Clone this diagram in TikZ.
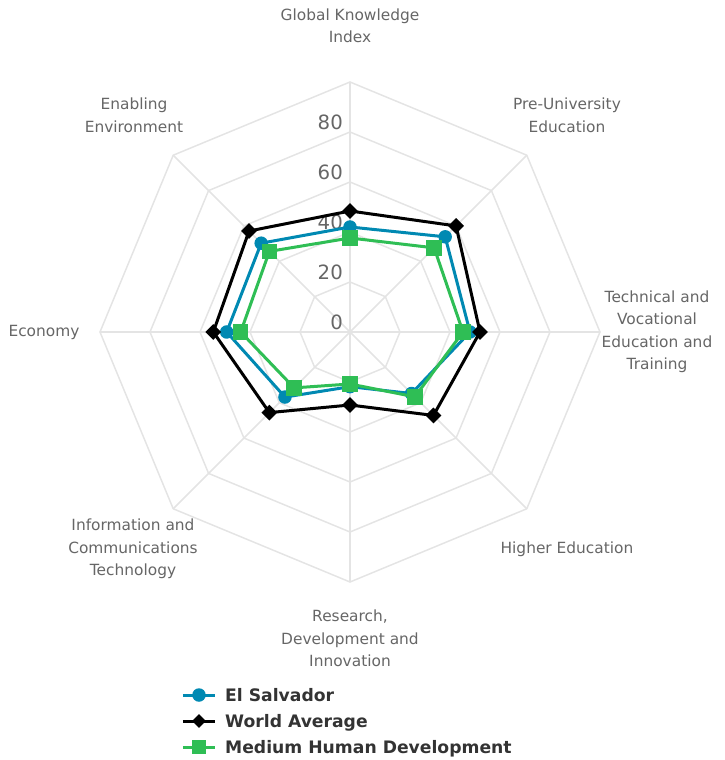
\documentclass[tikz,border=0pt]{standalone}
\usepackage{fontspec}
\setmainfont{DejaVu Sans}
\usetikzlibrary{shapes.geometric}
\definecolor{esblue}{RGB}{0,137,178}
\definecolor{mhdgreen}{RGB}{47,190,85}
\definecolor{gridgray}{RGB}{228,228,228}
\definecolor{labelgray}{RGB}{102,102,102}
\definecolor{legendgray}{RGB}{51,51,51}
\begin{document}
\begin{tikzpicture}[x=1pt,y=1pt,
  gridline/.style={draw=gridgray,line width=1.5pt},
  axislabel/.style={text=labelgray,align=center,inner sep=0pt,font=\fontsize{15.4}{22.5}\selectfont},
  valuelabel/.style={text=labelgray,inner sep=0pt,anchor=east,font=\fontsize{19.7}{22}\selectfont},
  esline/.style={draw=esblue,line width=3pt,line join=round},
  waline/.style={draw=black,line width=3pt,line join=round},
  mhdline/.style={draw=mhdgreen,line width=3pt,line join=round},
  esmark/.style={circle,fill=esblue,minimum size=13.5pt,inner sep=0pt},
  wamark/.style={diamond,fill=black,minimum size=16pt,inner sep=0pt},
  mhdmark/.style={rectangle,fill=mhdgreen,minimum size=15.5pt,inner sep=0pt},
  legendtext/.style={text=legendgray,anchor=base west,inner sep=0pt,font=\fontsize{17.2}{20}\selectfont\bfseries}]
\useasboundingbox (-350,-428) rectangle (375,332);
% grid rings
\foreach \r in {50,100,150,200,250}
  \draw[gridline] (90:\r) -- (45:\r) -- (0:\r) -- (-45:\r) -- (-90:\r) -- (-135:\r) -- (180:\r) -- (135:\r) -- cycle;
% spokes
\coordinate (c) at (0,0);
\foreach \a in {0,45,...,315}
  \draw[gridline] (c) -- (\a:250);
% value labels
\foreach \v/\r in {0/0,20/50,40/100,60/150,80/200}
  \node[valuelabel] (v\v) at (-7,\r+10) {\v};
% axis labels
\node[axislabel] (gki) at (0,306) {Global Knowledge\\Index};
\node[axislabel] (pue) at (217,216.5) {Pre-University\\Education};
\node[axislabel] (tvet) at (307,0) {Technical and\\Vocational\\Education and\\Training};
\node[axislabel] (he) at (217,-217) {Higher Education};
\node[axislabel] (rdi) at (0,-306.5) {Research,\\Development and\\Innovation};
\node[axislabel] (ict) at (-217,-217) {Information and\\Communications\\Technology};
\node[axislabel] (eco) at (-306,0) {Economy};
\node[axislabel] (ee) at (-216,216.5) {Enabling\\Environment};
% data points
\foreach \i/\a/\r in {1/90/105,2/45/134.6,3/0/120,4/-45/87,5/-90/54.7,6/-135/92,7/180/123.3,8/135/125.6}
  \coordinate (es\i) at (\a:\r);
\foreach \i/\a/\r in {1/90/121,2/45/150,3/0/130,4/-45/118,5/-90/73,6/-135/114,7/180/136.7,8/135/142.8}
  \coordinate (wa\i) at (\a:\r);
\foreach \i/\a/\r in {1/90/94,2/45/119,3/0/113,4/-45/91.7,5/-90/52,6/-135/79,7/180/109.3,8/135/114}
  \coordinate (mhd\i) at (\a:\r);
% El Salvador
\draw[esline] (es1) -- (es2) -- (es3) -- (es4) -- (es5) -- (es6) -- (es7) -- (es8) -- cycle;
\foreach \i in {1,...,8} \node[esmark] at (es\i) {};
% World Average
\draw[waline] (wa1) -- (wa2) -- (wa3) -- (wa4) -- (wa5) -- (wa6) -- (wa7) -- (wa8) -- cycle;
\foreach \i in {1,...,8} \node[wamark] at (wa\i) {};
% Medium Human Development
\draw[mhdline] (mhd1) -- (mhd2) -- (mhd3) -- (mhd4) -- (mhd5) -- (mhd6) -- (mhd7) -- (mhd8) -- cycle;
\foreach \i in {1,...,8} \node[mhdmark] at (mhd\i) {};
% legend
\coordinate (l1a) at (-167,-363); \coordinate (l1b) at (-135,-363);
\coordinate (l2a) at (-167,-389); \coordinate (l2b) at (-135,-389);
\coordinate (l3a) at (-167,-415); \coordinate (l3b) at (-135,-415);
\draw[esline] (l1a) -- (l1b);
\node[esmark] (lm1) at (-151,-363) {};
\node[legendtext] (lt1) at (-125,-369.3) {El Salvador};
\draw[waline] (l2a) -- (l2b);
\node[wamark,minimum size=14pt] (lm2) at (-151,-389) {};
\node[legendtext] (lt2) at (-125,-395.3) {World Average};
\draw[mhdline] (l3a) -- (l3b);
\node[mhdmark,minimum size=13.5pt] (lm3) at (-151,-415) {};
\node[legendtext] (lt3) at (-125,-421.3) {Medium Human Development};
\end{tikzpicture}
\end{document}
